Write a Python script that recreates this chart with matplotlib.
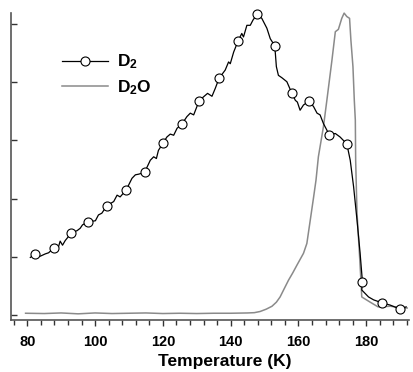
import numpy as np
import matplotlib
matplotlib.use("Agg")
import matplotlib.pyplot as plt
from matplotlib.ticker import MultipleLocator

plt.rcParams['font.family'] = ['Liberation Sans', 'DejaVu Sans']
plt.rcParams['mathtext.fontset'] = 'custom'
plt.rcParams['mathtext.bf'] = 'Liberation Sans:bold'
plt.rcParams['mathtext.rm'] = 'Liberation Sans:bold'

# D2 trace (temperature in K, signal in arb. units)
T_d2 = [80.9, 82.4, 83.8, 85.3, 86.3, 87.8, 89.2, 89.7, 90.4, 91.2, 93.0,
        94.7, 95.6, 96.3, 97.9, 100.1, 101.0, 102.0, 103.5, 105.5, 106.5,
        107.4, 109.2, 110.9, 111.9, 112.8, 114.6, 116.3, 117.3, 118.1, 118.7,
        120.0, 121.2, 122.2, 123.2, 124.2, 125.6, 127.1, 128.1, 129.1, 130.7,
        132.0, 133.2, 134.5, 135.5, 136.6, 138.4, 139.4, 139.9, 140.9, 142.2,
        143.3, 143.8, 144.8, 145.8, 146.6, 147.8, 149.2, 150.7, 151.7, 153.0,
        153.2, 153.5, 154.1, 155.1, 156.6, 158.1, 159.1, 159.7, 160.5, 161.5,
        163.2, 164.5, 165.5, 166.4, 167.4, 169.1, 170.9, 172.3, 174.3, 175.3,
        176.3, 177.3, 178.2, 178.9, 178.7, 180.7, 182.2, 184.6, 187.1, 190.0,
        191.8]
y_d2 = [0.99, 1.05, 1.01, 1.05, 1.07, 1.15, 1.17, 1.27, 1.20, 1.28, 1.41,
        1.45, 1.49, 1.55, 1.60, 1.62, 1.72, 1.75, 1.88, 1.95, 2.06,
        2.03, 2.15, 2.35, 2.41, 2.42, 2.45, 2.66, 2.72, 2.69, 2.83,
        2.95, 3.06, 3.11, 3.09, 3.21, 3.28, 3.41, 3.47, 3.44, 3.68,
        3.75, 3.81, 3.76, 3.90, 4.07, 4.21, 4.35, 4.32, 4.52, 4.71,
        4.84, 4.78, 4.98, 4.98, 5.07, 5.17, 5.10, 4.93, 4.75, 4.63,
        4.50, 4.27, 4.12, 4.08, 4.01, 3.81, 3.69, 3.66, 3.52, 3.61,
        3.68, 3.58, 3.47, 3.44, 3.29, 3.10, 3.12, 3.06, 2.94, 2.66,
        2.20, 1.63, 1.07, 0.57, 0.43, 0.31, 0.26, 0.21, 0.17, 0.10,
        0.14]
# points of the D2 trace that carry a circle marker
d2_marks = [1, 5, 10, 14, 18, 22, 26, 31, 36, 40, 45, 50, 56, 60, 66, 71,
            76, 79, 84, 88, 90]

# D2O trace
T_d2o = [79.5, 85, 90, 95, 100, 105, 110, 115, 120, 125, 130, 135, 140,
         145, 147, 148.7, 150.5, 152.2, 153.5, 154.6, 155.8, 157.1, 158.3,
         159.6, 161.5, 162.5, 163.5, 164.5, 165.2, 165.9, 167.4, 168.4, 169.9,
         170.9, 171.8, 172.8, 173.5, 174.3, 175.1, 175.5, 176.1, 176.5, 176.8,
         176.9, 177.1, 177.3, 178.0, 178.4, 178.7, 181.2, 183.5, 187.1, 192.1]
y_d2o = [0.03, 0.025, 0.035, 0.02, 0.035, 0.025, 0.03, 0.035, 0.025, 0.03,
         0.025, 0.03, 0.03, 0.035, 0.04, 0.06, 0.10, 0.15, 0.22, 0.31, 0.45,
         0.60, 0.72, 0.86, 1.06, 1.23, 1.63, 2.03, 2.32, 2.72, 3.24, 3.69,
         4.38, 4.87, 4.91, 5.10, 5.19, 5.13, 5.10, 4.72, 4.27, 3.69, 3.35,
         2.66, 2.20, 1.75, 1.07, 0.65, 0.31, 0.22, 0.14, 0.15, 0.12]

fig = plt.figure(figsize=(4.14, 3.72), dpi=100)
ax = fig.add_axes([0.0266, 0.1398, 0.961, 0.825])

ax.plot(T_d2, y_d2, color='black', lw=0.9, marker='o', markevery=d2_marks,
        ms=6.5, mfc='white', mec='black', mew=0.8, label=r'$\mathbf{D_2}$',
        clip_on=False, zorder=3)
ax.plot(T_d2o, y_d2o, color='#8a8a8a', lw=1.1, label=r'$\mathbf{D_2O}$',
        clip_on=False, zorder=2)

ax.set_xlim(75.2, 192.6)
ax.set_ylim(-0.086, 5.19)
ax.xaxis.set_major_locator(MultipleLocator(20))
ax.xaxis.set_minor_locator(MultipleLocator(4))
ax.yaxis.set_major_locator(MultipleLocator(1))
ax.set_yticklabels([])

for s in ['top', 'right']:
    ax.spines[s].set_visible(False)
for s in ['left', 'bottom']:
    ax.spines[s].set_color('#555555')
    ax.spines[s].set_linewidth(1.2)

ax.tick_params(axis='x', which='major', direction='out', length=4, width=1,
               color='#333333', pad=7, labelsize=10.5)
ax.tick_params(axis='x', which='minor', direction='out', length=3.5, width=1,
               color='#333333')
ax.tick_params(axis='y', direction='in', length=4, width=1, color='#333333')
for lab in ax.get_xticklabels():
    lab.set_fontweight('bold')

ax.set_xlabel('Temperature (K)', fontsize=12.5, fontweight='bold')
ax.xaxis.set_label_coords(0.536, -0.11)

ax.legend(loc='upper left', bbox_to_anchor=(0.09, 0.922), frameon=False,
          fontsize=12.5, handlelength=2.6, handletextpad=0.55, labelspacing=0.4)

fig.savefig('out.png', dpi=100)
